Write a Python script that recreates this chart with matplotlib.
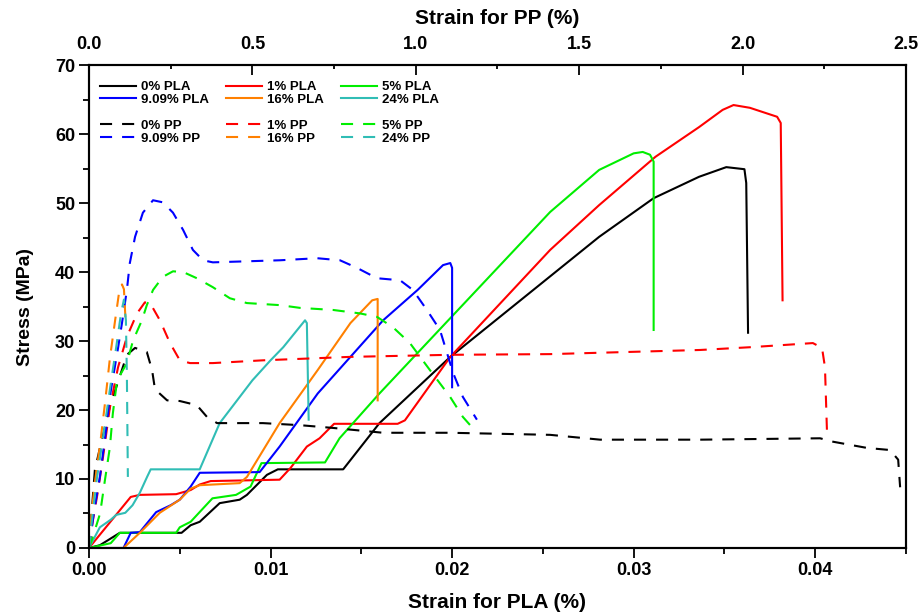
import numpy as np
import matplotlib.pyplot as plt
from matplotlib.lines import Line2D
from matplotlib.ticker import MultipleLocator, FormatStrFormatter

plt.rcParams['font.family'] = ['Liberation Sans', 'DejaVu Sans']
plt.rcParams['font.weight'] = 'bold'

# PLA samples -> bottom axis (strain for PLA, %)
pla0_x = [0, 0.0006, 0.0017, 0.0051, 0.0056, 0.0061, 0.0072, 0.0083, 0.0087, 0.0098, 0.0104,
          0.0140, 0.0160, 0.0199, 0.0281, 0.0311, 0.0336, 0.0351, 0.0361, 0.0362, 0.0363]
pla0_y = [0, 0.4, 2.2, 2.2, 3.3, 3.8, 6.5, 7.0, 7.7, 10.6, 11.4,
          11.4, 18.1, 27.7, 45.1, 50.7, 53.8, 55.2, 54.9, 52.9, 31.2]

pla1_x = [0, 0.0023, 0.0028, 0.0048, 0.0056, 0.0061, 0.0067, 0.0105, 0.0111, 0.0120, 0.0127,
          0.0135, 0.0170, 0.0174, 0.0199, 0.0254, 0.0281, 0.0312, 0.0336, 0.0349, 0.0355,
          0.0364, 0.0379, 0.0381, 0.0382]
pla1_y = [0, 7.4, 7.7, 7.8, 8.4, 9.2, 9.7, 9.9, 11.6, 14.7, 15.9,
          18.0, 18.0, 18.5, 27.7, 43.2, 49.7, 56.7, 61.0, 63.5, 64.2,
          63.8, 62.5, 61.6, 35.9]

pla5_x = [0, 0.0012, 0.0017, 0.0048, 0.0050, 0.0056, 0.0068, 0.0081, 0.0089, 0.0095, 0.0130,
          0.0138, 0.0160, 0.0254, 0.0281, 0.0300, 0.0305, 0.0309, 0.0311, 0.0311]
pla5_y = [0, 0.7, 2.2, 2.2, 3.0, 3.8, 7.2, 7.7, 8.9, 12.3, 12.4,
          15.9, 22.4, 48.7, 54.8, 57.2, 57.4, 57.0, 56.0, 31.6]

pla9_x = [0, 0.0019, 0.0023, 0.0028, 0.0037, 0.0045, 0.0050, 0.0056, 0.0061, 0.0094, 0.0105,
          0.0126, 0.0162, 0.0181, 0.0195, 0.0199, 0.0200, 0.0200]
pla9_y = [0, 0, 2.2, 2.3, 5.2, 6.2, 7.0, 8.9, 10.9, 11.0, 14.7,
          22.4, 33.0, 37.4, 41.0, 41.3, 40.6, 23.3]

pla16_x = [0, 0.0019, 0.0028, 0.0039, 0.0050, 0.0056, 0.0061, 0.0083, 0.0087, 0.0105, 0.0126,
           0.0144, 0.0156, 0.0159, 0.0159, 0.0159]
pla16_y = [0, 0, 2.2, 5.1, 7.0, 8.6, 9.1, 9.4, 10.3, 18.1, 25.8,
           32.6, 35.9, 36.1, 33.0, 21.4]

pla24_x = [0, 0.0006, 0.0012, 0.0015, 0.0020, 0.0024, 0.0028, 0.0032, 0.0034, 0.0061, 0.0072,
           0.0090, 0.0100, 0.0107, 0.0119, 0.0120, 0.0121]
pla24_y = [0, 3.0, 4.1, 4.8, 5.1, 6.2, 8.0, 10.3, 11.4, 11.4, 18.1,
           24.3, 27.2, 29.1, 33.0, 32.6, 18.6]

# PP samples -> top axis (strain for PP, %)
pp0_x = [0, 0.018, 0.034, 0.064, 0.116, 0.141, 0.177, 0.193, 0.202, 0.239, 0.278, 0.330, 0.361,
         0.392, 0.532, 0.646, 0.747, 0.900, 1.105, 1.411, 1.564, 1.870, 2.237, 2.277, 2.381,
         2.451, 2.476, 2.482]
pp0_y = [0, 11.3, 14.6, 20.5, 28.0, 29.0, 28.4, 25.8, 23.0, 21.4, 21.3, 20.7, 19.0,
         18.1, 18.1, 17.8, 17.4, 16.7, 16.7, 16.4, 15.7, 15.7, 15.9, 15.4, 14.5,
         14.2, 12.8, 8.8]

pp1_x = [0, 0.012, 0.028, 0.043, 0.064, 0.089, 0.116, 0.147, 0.171, 0.187, 0.217, 0.248, 0.278,
         0.309, 0.379, 0.532, 0.799, 1.105, 1.411, 1.564, 1.870, 2.023, 2.215, 2.243, 2.252, 2.258]
pp1_y = [0, 4.0, 8.4, 13.2, 20.4, 26.2, 30.6, 34.0, 35.6, 35.5, 33.0, 29.7, 27.2,
         26.8, 26.8, 27.2, 27.7, 28.0, 28.1, 28.3, 28.7, 29.1, 29.7, 29.0, 26.2, 17.1]

pp5_x = [0, 0.009, 0.034, 0.049, 0.064, 0.073, 0.086, 0.116, 0.135, 0.162, 0.177, 0.196, 0.226,
         0.257, 0.288, 0.330, 0.379, 0.431, 0.483, 0.584, 0.646, 0.747, 0.829, 0.881, 0.930,
         0.982, 1.043, 1.105, 1.144, 1.172]
pp5_y = [0, 1.2, 5.0, 9.9, 14.6, 19.5, 24.3, 26.8, 30.1, 33.0, 35.2, 37.4, 39.3,
         40.1, 40.0, 39.1, 37.8, 36.2, 35.5, 35.2, 34.8, 34.5, 34.0, 33.5, 32.0,
         29.7, 25.8, 21.9, 19.0, 17.5]

pp9_x = [0, 0.003, 0.018, 0.034, 0.052, 0.064, 0.089, 0.101, 0.116, 0.125, 0.141, 0.165, 0.196,
         0.226, 0.257, 0.288, 0.318, 0.349, 0.379, 0.584, 0.698, 0.768, 0.820, 0.881, 0.952,
         0.991, 1.034, 1.074, 1.114, 1.144, 1.187]
pp9_y = [0, 1.2, 6.0, 10.5, 17.0, 22.0, 29.0, 32.6, 37.4, 41.3, 45.1, 48.6, 50.4,
         50.1, 48.6, 46.1, 43.2, 41.7, 41.4, 41.7, 42.0, 41.7, 40.6, 39.1, 38.8,
         37.4, 34.5, 31.6, 25.4, 21.9, 18.6]

pp16_x = [0, 0.006, 0.018, 0.034, 0.049, 0.064, 0.080, 0.092, 0.101, 0.107, 0.113]
pp16_y = [0, 4.0, 9.5, 15.0, 21.0, 27.5, 33.0, 37.0, 38.2, 37.5, 32.0]

pp24_x = [0, 0.009, 0.024, 0.043, 0.064, 0.083, 0.098, 0.107, 0.113, 0.116, 0.119]
pp24_y = [0, 4.0, 10.0, 16.0, 23.0, 29.0, 34.0, 36.0, 33.0, 25.0, 10.3]

colors = ['#000000', '#ff0000', '#00ee00', '#0000ff', '#ff8000', '#30bdb5']
pla_labels = ['0% PLA', '1% PLA', '5% PLA', '9.09% PLA', '16% PLA', '24% PLA']
pp_labels = ['0% PP', '1% PP', '5% PP', '9.09% PP', '16% PP', '24% PP']

pla_data = [(pla0_x, pla0_y), (pla1_x, pla1_y), (pla5_x, pla5_y),
            (pla9_x, pla9_y), (pla16_x, pla16_y), (pla24_x, pla24_y)]
pp_data = [(pp0_x, pp0_y), (pp1_x, pp1_y), (pp5_x, pp5_y),
           (pp9_x, pp9_y), (pp16_x, pp16_y), (pp24_x, pp24_y)]

fig = plt.figure(figsize=(9.23, 6.14), dpi=100)
ax = fig.add_axes([0.0964, 0.1075, 0.8852, 0.7866])
ax2 = ax.twiny()

pla_lines = []
for (x, y), c, lab in zip(pla_data, colors, pla_labels):
    ln, = ax.plot(x, y, color=c, lw=1.5, label=lab)
    pla_lines.append(ln)

pp_lines = []
for (x, y), c, lab in zip(pp_data, colors, pp_labels):
    ln, = ax2.plot(x, y, color=c, lw=1.5, dashes=(5.8, 4.8), label=lab)
    pp_lines.append(ln)

ax.set_xlim(0, 0.045)
ax2.set_xlim(0, 2.5)
ax.set_ylim(0, 70)

ax.xaxis.set_major_locator(MultipleLocator(0.01))
ax.xaxis.set_minor_locator(MultipleLocator(0.005))
ax.xaxis.set_major_formatter(FormatStrFormatter('%.2f'))
ax.yaxis.set_major_locator(MultipleLocator(10))
ax.yaxis.set_minor_locator(MultipleLocator(5))
ax2.xaxis.set_major_locator(MultipleLocator(0.5))
ax2.xaxis.set_minor_locator(MultipleLocator(0.25))
ax2.xaxis.set_major_formatter(FormatStrFormatter('%.1f'))

ax.tick_params(which='major', direction='out', length=7, width=1.3, labelsize=13, pad=3)
ax.tick_params(which='minor', direction='out', length=4, width=1.3)
ax.tick_params(top=False, right=False, which='both')
ax2.tick_params(axis='x', which='major', direction='in', length=7, width=1.3, labelsize=13, pad=9)
ax2.tick_params(axis='x', which='minor', direction='in', length=3, width=1.3)

for a in (ax, ax2):
    for s in a.spines.values():
        s.set_linewidth(1.5)

ax.set_xlabel('Strain for PLA (%)', fontsize=15, fontweight='bold', labelpad=10)
ax2.set_xlabel('Strain for PP (%)', fontsize=15, fontweight='bold', labelpad=8)
ax.set_ylabel('Stress (MPa)', fontsize=14, fontweight='bold', labelpad=15)

# legend: 3 columns, blank row between PLA and PP entries
blank = Line2D([], [], color='none', label=' ')
handles = [pla_lines[0], pla_lines[3], blank, pp_lines[0], pp_lines[3],
           pla_lines[1], pla_lines[4], blank, pp_lines[1], pp_lines[4],
           pla_lines[2], pla_lines[5], blank, pp_lines[2], pp_lines[5]]
labels = [h.get_label() for h in handles]
ax2.legend(handles, labels, ncol=3, loc='upper left', bbox_to_anchor=(0.0135, 0.967),
           frameon=False, fontsize=9.5, handlelength=2.7, handletextpad=0.4,
           labelspacing=0.05, columnspacing=1.3, borderpad=0, borderaxespad=0)

fig.savefig('out.png', dpi=100)
